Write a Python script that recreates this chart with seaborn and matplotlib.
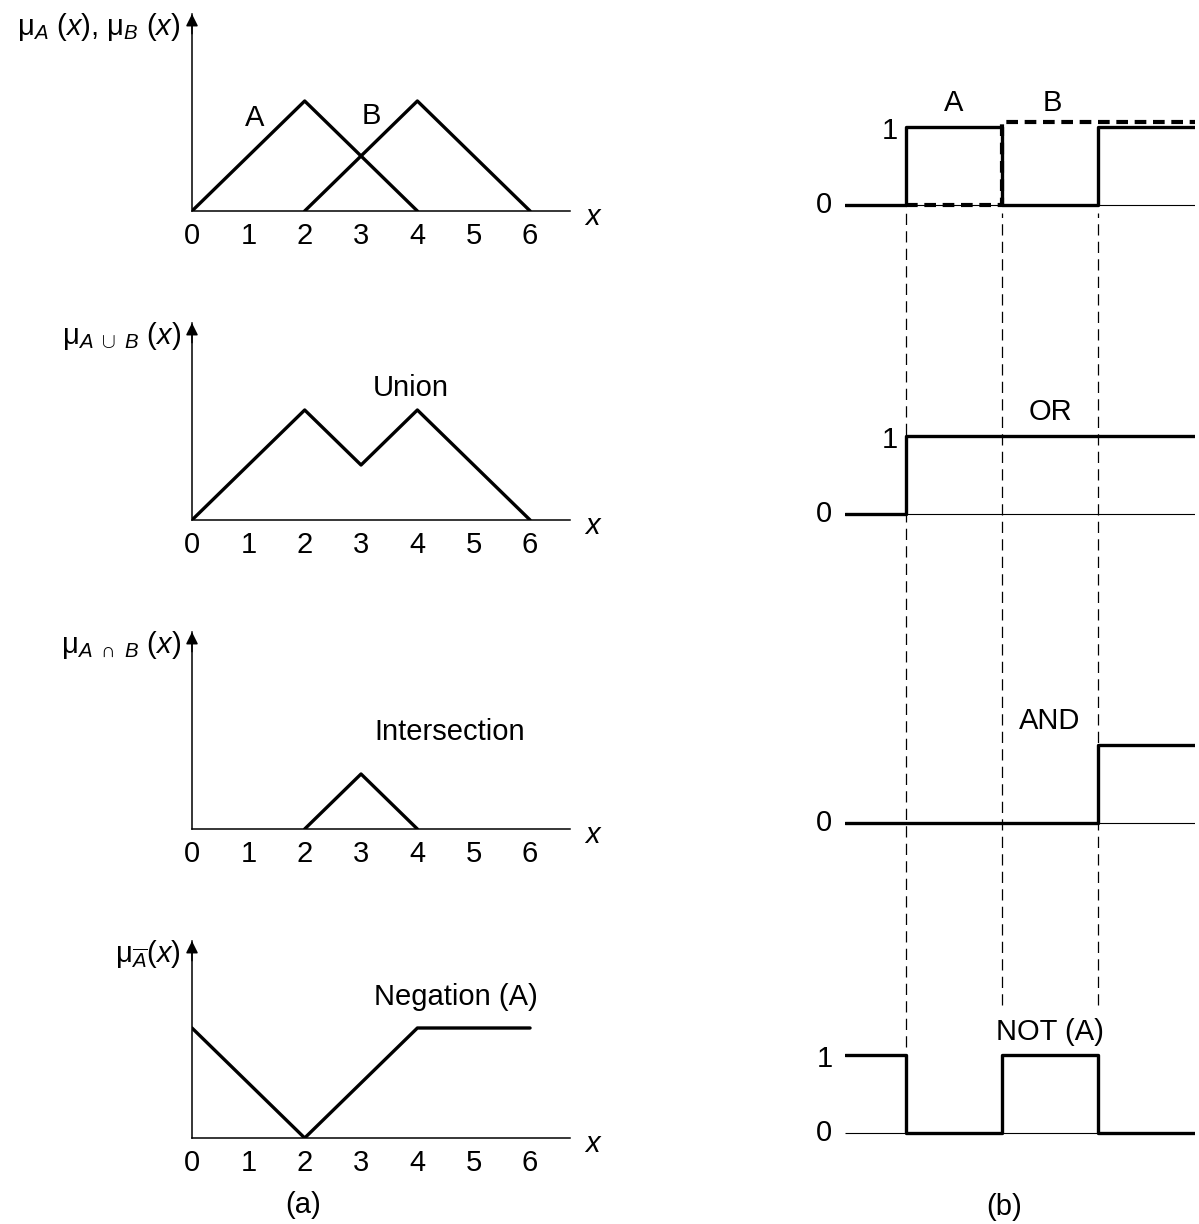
import numpy as np
import pandas as pd
import matplotlib
matplotlib.use("Agg")
import matplotlib.pyplot as plt
import seaborn as sns

sns.set_style("white")
plt.rcParams['font.family'] = ['Liberation Sans', 'DejaVu Sans']
plt.rcParams['mathtext.fontset'] = 'custom'
plt.rcParams['mathtext.rm'] = 'Liberation Sans'
plt.rcParams['mathtext.it'] = 'Liberation Sans:italic'
plt.rcParams['mathtext.bf'] = 'Liberation Sans:bold'
plt.rcParams['text.color'] = 'k'

# ---- data (a): fuzzy membership functions ----
x_ticks = [0, 1, 2, 3, 4, 5, 6]
mu_a_x = [0, 2, 4]
mu_a_y = [0, 1, 0]
mu_b_x = [2, 4, 6]
mu_b_y = [0, 1, 0]
union_x = [0, 2, 3, 4, 6]
union_y = [0, 1, 0.5, 1, 0]
inter_x = [2, 3, 4]
inter_y = [0, 0.5, 0]
neg_x = [0, 2, 4, 6]
neg_y = [1, 0, 1, 1]

# ---- data (b): crisp (boolean) signals ----
t_edges = [0.365, 1, 2, 3, 4.01]
sig_a = [0, 1, 0, 1, 1]
sig_b = [0, 0, 1, 1, 1]
sig_or = [0, 1, 1, 1, 1]
sig_and = [0, 0, 0, 1, 1]
sig_not = [1, 0, 1, 0, 0]

FS = 21
LW = 2.4

fig = plt.figure(figsize=(11.99, 12.24), dpi=100)

def px_ax(left, top, right, bottom):
    W, H = 1199, 1224
    return fig.add_axes([left / W, 1 - bottom / H, (right - left) / W, (bottom - top) / H])

# left column: baseline pixel rows and labels
left_rows = [
    (211, r'μ$_{A}\ $($x$), μ$_{B}\ $($x$)', [(mu_a_x, mu_a_y), (mu_b_x, mu_b_y)]),
    (520, r'μ$_{A\ \cup\ B}\ $($x$)', [(union_x, union_y)]),
    (829, r'μ$_{A\ \cap\ B}\ $($x$)', [(inter_x, inter_y)]),
    (1138, r'μ$_{\overline{A}}$($x$)', [(neg_x, neg_y)]),
]
axes_a = []
for base, lab, curves in left_rows:
    ax = px_ax(192, base - 197, 569.5, base)
    for cx, cy in curves:
        sns.lineplot(x=cx, y=cy, ax=ax, color='k', lw=LW, sort=False, estimator=None)
    ax.set_xlim(0, 6.7)
    ax.set_ylim(0, 197 / 110)
    sns.despine(ax=ax)
    for s in ['left', 'bottom']:
        ax.spines[s].set_linewidth(1.1)
        ax.spines[s].set_color('k')
    ax.set_xticks(x_ticks)
    ax.set_yticks([])
    ax.tick_params(axis='x', direction='in', length=10, width=1.1, labelsize=FS, pad=8, colors='k')
    ax.annotate('', xy=(0, 1.0), xytext=(0, 0.9), xycoords='axes fraction',
                arrowprops=dict(arrowstyle='-|>', color='k', lw=1.1, mutation_scale=18,
                                shrinkA=0, shrinkB=0))
    ax.text(1.06, -0.03, 'x', transform=ax.transAxes, fontsize=FS, style='italic',
            ha='center', va='center')
    ax.text(-0.03, 0.935, lab, transform=ax.transAxes, fontsize=FS, ha='right', va='center')
    ax.set_xlabel('')
    ax.set_ylabel('')
    axes_a.append(ax)

axes_a[0].text(1.11, 0.85, 'A', fontsize=FS, ha='center', va='center')
axes_a[0].text(3.19, 0.86, 'B', fontsize=FS, ha='center', va='center')
axes_a[1].text(3.88, 1.2, 'Union', fontsize=FS, ha='center', va='center')
axes_a[2].text(4.57, 0.88, 'Intersection', fontsize=FS, ha='center', va='center')
axes_a[3].text(4.68, 1.28, 'Negation (A)', fontsize=FS, ha='center', va='center')

# right column: timing diagram in one axes, rows stacked by offset
axb = px_ax(845, 90, 1195, 1145)
axb.set_xlim(t_edges[0], t_edges[-1])
axb.set_ylim((205 - 1145) / 78, (205 - 90) / 78)
axb.axis('off')

offsets = [0, -3.96, -7.92, -11.9]
rows_b = [
    ('', sig_a, [(0.83, 1), (0.15, 0)]),
    ('OR', sig_or, [(0.83, 1), (0.15, 0)]),
    ('AND', sig_and, [(0.15, 0)]),
    ('NOT (A)', sig_not, [(0.15, 1), (0.15, 0)]),
]
for off, (name, sig, labs) in zip(offsets, rows_b):
    axb.hlines(off, t_edges[0], t_edges[-1], color='k', lw=0.8)
    sns.lineplot(x=t_edges, y=np.array(sig) + off, ax=axb, color='k', lw=LW,
                 drawstyle='steps-post', estimator=None)
    if name:
        axb.text(2.5, off + 1.3, name, fontsize=FS, ha='center', va='center')
    for tx, lv in labs:
        axb.text(tx, off + lv - 0.05 * lv, str(lv), fontsize=FS, ha='center', va='center',
                 clip_on=False)

# signal B drawn dashed on top of A
sns.lineplot(x=t_edges[1:], y=np.array(sig_b[1:]) * 1.06, ax=axb, color='k', lw=3.0,
             drawstyle='steps-post', estimator=None, linestyle=(0, (2.8, 1.6)))
axb.text(1.5, 1.31, 'A', fontsize=FS, ha='center', va='center')
axb.text(2.52, 1.31, 'B', fontsize=FS, ha='center', va='center')

# guide lines at the transitions
axb.vlines(t_edges[1], offsets[3] + 1.1, -0.1, color='k', lw=0.9, linestyles=(0, (9, 5)))
axb.vlines(t_edges[2:4], offsets[3] + 1.65, -0.1, color='k', lw=0.9, linestyles=(0, (9, 5)))

fig.text(303 / 1199, 1 - 1205 / 1224, '(a)', fontsize=FS, ha='center', va='center')
fig.text(1004 / 1199, 1 - 1207 / 1224, '(b)', fontsize=FS, ha='center', va='center')

fig.savefig('out.png', dpi=100, facecolor='white')
